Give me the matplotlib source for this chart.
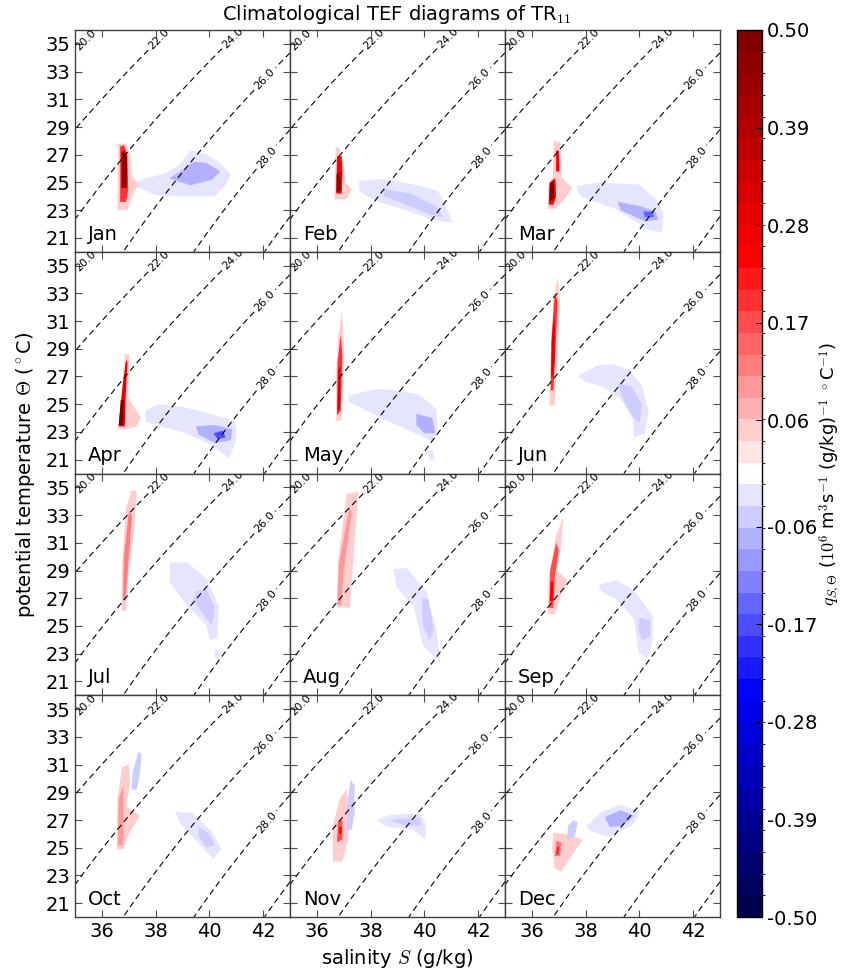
import numpy as np
import matplotlib
matplotlib.use('Agg')
import matplotlib.pyplot as plt
from matplotlib.colors import ListedColormap, BoundaryNorm
from matplotlib.collections import PolyCollection

plt.rcParams['font.family'] = 'DejaVu Sans'
plt.rcParams['mathtext.fontset'] = 'cm'

MONTHS = ['Jan', 'Feb', 'Mar', 'Apr', 'May', 'Jun',
          'Jul', 'Aug', 'Sep', 'Oct', 'Nov', 'Dec']
SIGMA_LEVELS = [20, 22, 24, 26, 28, 30]
SIGMA_LABELED = [20, 22, 24, 26, 28]
CBAR_TICKS = [-0.50, -0.39, -0.28, -0.17, -0.06, 0.06, 0.17, 0.28, 0.39, 0.50]
X_TICKS = [36, 38, 40, 42]
Y_TICKS = [21, 23, 25, 27, 29, 31, 33, 35]

# 各月の輸送分布: (値, [(S, Theta), ...]) 画像から読み取った領域
JAN = [
    (-0.035, [(37.1, 24.9), (37.6, 25.3), (38.3, 25.6), (38.9, 26.3), (39.3, 27.3), (39.8, 27.1), (40.4, 26.4),
              (40.8, 25.6), (40.6, 24.8), (40.2, 24.0), (39.0, 24.0), (38.0, 24.1), (37.5, 24.5)]),
    (-0.07, [(38.5, 25.3), (39.0, 25.9), (39.4, 26.5), (39.9, 26.4), (40.4, 25.8), (40.1, 25.2), (39.3, 24.8)]),
    (0.05, [(36.58, 23.0), (36.6, 27.8), (36.9, 27.8), (37.05, 27.0), (37.1, 25.6), (37.35, 24.8),
            (37.15, 24.1), (36.95, 23.0)]),
    (0.2, [(36.68, 23.6), (36.68, 27.6), (36.82, 27.7), (36.95, 27.0), (36.98, 24.5), (36.9, 23.6)]),
    (0.45, [(36.73, 24.6), (36.73, 27.2), (36.83, 27.3), (36.93, 26.8), (36.93, 24.6)]),
]
FEB = [
    (-0.035, [(37.55, 25.1), (38.3, 25.25), (39.5, 24.9), (40.5, 24.4), (40.8, 23.3), (41.05, 22.1), (40.3, 22.3),
              (39.3, 23.0), (38.3, 23.6), (37.6, 24.3)]),
    (-0.06, [(38.5, 24.5), (39.5, 24.2), (40.5, 23.2), (40.7, 22.5), (40.2, 22.7), (39.3, 23.4), (38.5, 24.0)]),
    (0.05, [(36.65, 23.8), (36.7, 27.6), (36.85, 27.4), (37.0, 26.2), (37.05, 25.0), (37.3, 24.5), (37.1, 23.8)]),
    (0.25, [(36.72, 24.2), (36.75, 26.9), (36.92, 26.9), (36.95, 25.6), (36.92, 24.2)]),
    (0.45, [(36.73, 24.3), (36.73, 25.6), (36.88, 25.8), (36.9, 24.4)]),
]
MAR = [
    (-0.035, [(37.65, 24.75), (38.5, 25.0), (40.0, 24.85), (40.6, 23.8), (40.9, 22.8), (40.85, 21.4), (40.3, 21.6),
              (40.0, 22.0), (39.1, 23.1), (37.8, 24.0)]),
    (-0.07, [(39.2, 23.6), (40.0, 23.3), (40.6, 22.9), (40.7, 22.3), (40.2, 22.2), (39.3, 23.0)]),
    (-0.15, [(40.15, 22.9), (40.5, 22.9), (40.55, 22.5), (40.2, 22.5)]),
    (0.05, [(36.58, 23.1), (36.6, 24.6), (36.78, 25.4), (36.82, 28.0), (37.05, 27.9), (37.1, 25.4), (37.5, 24.6),
            (37.3, 24.0), (36.9, 23.1)]),
    (0.25, [(36.63, 23.4), (36.65, 25.0), (36.87, 25.3), (36.9, 24.0), (36.8, 23.4)]),
    (0.25, [(36.9, 25.8), (36.9, 27.3), (37.0, 27.3), (37.02, 25.8)]),
    (0.48, [(36.66, 23.6), (36.68, 24.9), (36.82, 25.1), (36.83, 23.9)]),
]
APR = [
    (-0.035, [(37.6, 24.5), (38.1, 25.0), (39.0, 24.8), (39.65, 24.5), (40.9, 23.8), (41.0, 23.4), (41.0, 22.5),
              (40.75, 21.1), (40.1, 22.0), (39.15, 22.9), (37.65, 23.7)]),
    (-0.07, [(39.5, 23.4), (40.2, 23.5), (40.85, 23.2), (40.8, 22.4), (40.2, 22.2), (39.6, 22.8)]),
    (-0.18, [(40.15, 22.9), (40.5, 23.1), (40.6, 22.6), (40.3, 22.5)]),
    (0.05, [(36.6, 23.2), (36.72, 25.5), (36.85, 28.6), (37.02, 28.6), (36.98, 25.5), (37.45, 24.0), (37.3, 23.4),
            (36.9, 23.2)]),
    (0.3, [(36.62, 23.4), (36.78, 26.5), (36.9, 28.2), (36.95, 28.0), (36.88, 25.5), (36.85, 23.4)]),
    (0.48, [(36.63, 23.5), (36.7, 25.3), (36.8, 25.3), (36.8, 23.5)]),
]
MAY = [
    (-0.035, [(37.17, 25.6), (38.2, 26.1), (39.0, 26.0), (39.8, 25.7), (40.45, 24.65), (40.5, 22.9), (40.3, 22.3),
              (39.6, 22.95), (38.4, 24.0), (37.2, 25.15)]),
    (-0.035, [(40.1, 21.6), (40.3, 21.7), (40.4, 21.0), (40.2, 21.0)]),
    (-0.07, [(39.7, 24.3), (40.3, 24.0), (40.4, 22.9), (40.0, 22.9), (39.7, 23.5)]),
    (0.05, [(36.72, 23.8), (36.7, 27.0), (36.78, 29.5), (36.92, 31.8), (37.02, 29.0), (36.98, 26.5), (36.9, 23.8)]),
    (0.2, [(36.75, 24.2), (36.77, 28.0), (36.88, 30.0), (36.95, 28.5), (36.88, 24.5)]),
    (0.32, [(36.77, 24.6), (36.8, 27.5), (36.88, 27.8), (36.86, 24.6)]),
]
JUN = [
    (-0.035, [(37.7, 27.05), (38.45, 27.8), (39.0, 27.9), (39.6, 27.5), (40.1, 26.3), (40.35, 24.5), (40.2, 22.9),
              (39.8, 22.6), (39.75, 23.9), (39.3, 25.4), (38.6, 26.3), (38.0, 26.6)]),
    (-0.06, [(39.2, 26.5), (39.7, 26.3), (40.1, 25.0), (40.0, 23.6), (39.8, 24.0), (39.4, 25.3)]),
    (0.05, [(36.65, 24.9), (36.7, 28.5), (36.8, 32.5), (36.95, 34.2), (37.05, 32.5), (36.95, 28.0), (36.85, 24.9)]),
    (0.2, [(36.7, 26.0), (36.72, 29.5), (36.85, 33.0), (36.95, 32.5), (36.88, 29.0), (36.8, 26.0)]),
    (0.3, [(36.72, 27.0), (36.75, 30.0), (36.86, 31.5), (36.85, 28.5), (36.8, 27.0)]),
]
JUL = [
    (-0.035, [(38.5, 28.2), (38.53, 29.55), (39.15, 29.6), (39.9, 28.4), (40.35, 26.4), (40.3, 24.1), (40.0, 24.0),
              (39.9, 25.0), (39.2, 26.4)]),
    (-0.06, [(39.5, 27.5), (39.9, 27.6), (40.2, 26.3), (40.1, 25.0), (39.8, 25.8), (39.4, 26.8)]),
    (-0.035, [(40.2, 23.3), (40.35, 23.3), (40.35, 22.7), (40.2, 22.7)]),
    (0.05, [(36.73, 26.1), (36.75, 29.5), (36.9, 33.5), (37.1, 34.8), (37.3, 34.7), (37.2, 32.0), (37.0, 29.0),
            (36.9, 26.1)]),
    (0.12, [(36.78, 26.8), (36.82, 30.0), (37.0, 33.2), (37.12, 33.0), (37.0, 30.0), (36.88, 27.0)]),
]
AUG = [
    (-0.035, [(38.84, 29.1), (39.33, 29.2), (40.08, 27.5), (40.45, 24.6), (40.6, 22.3), (40.35, 22.8),
              (39.95, 23.6), (39.6, 26.4), (38.96, 27.8)]),
    (-0.06, [(39.9, 27.0), (40.15, 26.9), (40.35, 24.7), (40.2, 24.0), (39.95, 25.0)]),
    (0.05, [(36.74, 26.4), (36.78, 29.5), (37.1, 34.5), (37.54, 34.7), (37.4, 31.0), (37.23, 26.3)]),
    (0.1, [(36.76, 26.5), (36.82, 29.5), (37.2, 33.5), (37.3, 33.2), (37.0, 29.0), (36.9, 26.5)]),
]
SEP = [
    (-0.035, [(38.5, 27.8), (38.53, 28.0), (39.15, 28.3), (39.8, 27.6), (40.5, 25.7), (40.5, 24.05), (40.3, 22.65),
              (39.96, 23.1), (39.8, 25.5), (39.15, 26.9), (38.6, 27.5)]),
    (-0.06, [(40.0, 25.6), (40.4, 25.4), (40.4, 24.2), (40.1, 24.0), (39.95, 24.8)]),
    (0.05, [(36.6, 25.85), (36.62, 28.5), (36.9, 31.5), (37.17, 32.9), (37.1, 31.0), (36.95, 29.0), (37.35, 28.2),
            (37.1, 27.3), (36.85, 25.85)]),
    (0.17, [(36.65, 26.3), (36.68, 29.0), (36.9, 31.0), (37.0, 30.5), (36.85, 28.5), (36.8, 26.3)]),
    (0.25, [(36.66, 26.8), (36.7, 28.2), (36.8, 28.2), (36.8, 26.8)]),
]
OCT = [
    (0.05, [(36.55, 24.9), (36.58, 28.5), (36.75, 30.8), (37.0, 31.0), (37.05, 29.5), (36.9, 28.0), (37.42, 27.3),
            (37.0, 26.0), (36.8, 24.9)]),
    (0.1, [(36.6, 25.2), (36.62, 28.5), (36.8, 29.5), (36.8, 25.2)]),
    (-0.05, [(37.1, 29.2), (37.15, 30.5), (37.35, 31.9), (37.48, 31.8), (37.4, 30.2), (37.3, 29.2)]),
    (-0.035, [(38.72, 27.6), (39.4, 27.5), (40.14, 26.07), (40.45, 24.9), (40.14, 24.2), (39.65, 25.2),
              (38.9, 26.8)]),
    (-0.06, [(39.6, 26.5), (40.0, 26.0), (40.2, 25.2), (39.9, 25.0), (39.6, 25.8)]),
]
NOV = [
    (0.05, [(36.6, 24.0), (36.58, 26.5), (36.85, 28.5), (37.1, 29.2), (37.2, 27.5), (37.15, 25.5), (36.95, 24.0)]),
    (0.17, [(36.75, 25.4), (36.78, 26.8), (36.95, 27.0), (36.95, 25.6)]),
    (0.3, [(36.83, 26.0), (36.84, 26.5), (36.92, 26.5), (36.9, 26.0)]),
    (-0.05, [(37.1, 26.3), (37.15, 28.5), (37.25, 29.9), (37.4, 29.5), (37.4, 27.5), (37.3, 26.3)]),
    (-0.035, [(38.22, 27.0), (38.7, 27.35), (39.8, 27.5), (40.05, 26.8), (40.05, 25.6), (39.55, 26.3),
              (38.6, 26.5)]),
    (-0.06, [(38.7, 27.0), (39.8, 27.2), (39.9, 26.6), (39.3, 26.6)]),
]
DEC = [
    (0.05, [(36.8, 26.1), (37.2, 26.0), (37.9, 25.6), (37.5, 24.5), (37.1, 23.3), (36.85, 23.5), (36.75, 25.0)]),
    (0.12, [(36.85, 24.4), (36.9, 25.5), (37.1, 25.4), (37.05, 24.4)]),
    (0.22, [(36.9, 24.5), (36.95, 25.1), (37.02, 25.1), (36.98, 24.5)]),
    (-0.05, [(37.3, 25.6), (37.35, 26.6), (37.55, 27.0), (37.7, 26.8), (37.6, 25.8)]),
    (-0.035, [(38.04, 26.55), (38.53, 27.5), (39.27, 28.1), (39.95, 27.7), (39.95, 27.2), (39.7, 26.55),
              (38.84, 25.8), (38.16, 26.2)]),
    (-0.07, [(38.7, 27.2), (39.3, 27.7), (39.8, 27.3), (39.4, 26.6), (38.9, 26.5)]),
]
MONTH_DATA = [JAN, FEB, MAR, APR, MAY, JUN, JUL, AUG, SEP, OCT, NOV, DEC]


def sigma0(SA, T):
    # EOS-80 表層密度 (p=0) から sigma を計算
    S = SA / 1.00472
    rw = (999.842594 + 6.793952e-2 * T - 9.095290e-3 * T**2 + 1.001685e-4 * T**3
          - 1.120083e-6 * T**4 + 6.536332e-9 * T**5)
    rho = (rw + S * (0.824493 - 4.0899e-3 * T + 7.6438e-5 * T**2 - 8.2467e-7 * T**3 + 5.3875e-9 * T**4)
           + S**1.5 * (-5.72466e-3 + 1.0227e-4 * T - 1.6546e-6 * T**2) + 4.8314e-4 * S**2)
    return rho - 1000.0


# 離散カラーマップ (41 段階, 中央が白)
levels = np.linspace(-0.5, 0.5, 42)
cmap = ListedColormap(plt.cm.seismic(np.linspace(0, 1, 41)))
norm = BoundaryNorm(levels, cmap.N)

s_grid = np.linspace(35, 43, 161)
t_grid = np.linspace(20, 36, 161)
SS, TT = np.meshgrid(s_grid, t_grid)
SIG = sigma0(SS, TT)
label_pos = [(35.4, 35.3), (38.1, 35.4), (40.9, 35.4), (42.15, 32.3), (42.2, 26.7)]

fig = plt.figure(figsize=(8.45, 9.74), dpi=100)
axes = fig.subplots(4, 3, sharex=True, sharey=True)
fig.subplots_adjust(left=0.0888, right=0.8521, bottom=0.0585, top=0.9692, wspace=0, hspace=0)

pc = None
for i, ax in enumerate(axes.flat):
    data = MONTH_DATA[i]
    polys = [np.array(p) for v, p in data]
    vals = np.array([v for v, p in data])
    pc = PolyCollection(polys, cmap=cmap, norm=norm, edgecolors='none', linewidths=0)
    pc.set_array(vals)
    ax.add_collection(pc)

    cs = ax.contour(SS, TT, SIG, levels=SIGMA_LEVELS, colors='k', linewidths=0.8,
                    linestyles=[(0, (5.5, 3.5))])
    ax.clabel(cs, levels=SIGMA_LABELED, fmt='%.1f', fontsize=8, inline=True, inline_spacing=3,
              manual=label_pos)

    ax.text(0.06, 0.055, MONTHS[i], transform=ax.transAxes, fontsize=14)
    ax.set_xlim(35, 43)
    ax.set_ylim(20, 36)
    ax.set_xticks(X_TICKS)
    ax.set_yticks(Y_TICKS)
    ax.tick_params(direction='in', top=True, right=True, length=5, labelsize=14, color='0.3')
    for sp in ax.spines.values():
        sp.set_color('0.25')
        sp.set_linewidth(1.0)

cax = fig.add_axes([0.8722, 0.0585, 0.0296, 0.9692 - 0.0585])
cb = fig.colorbar(pc, cax=cax, boundaries=levels, ticks=CBAR_TICKS)
cb.ax.set_yticklabels(['%.2f' % t for t in CBAR_TICKS])
cb.ax.tick_params(labelsize=14, length=4, direction='in')
cb.outline.set_linewidth(1.0)

fig.text(0.47, 0.985, r'Climatological TEF diagrams of TR$_{11}$', ha='center', va='center', fontsize=14)
fig.text(0.47, 0.016, r'salinity $S$ (g/kg)', ha='center', va='center', fontsize=14)
fig.text(0.03, 0.513, r'potential temperature $\Theta$ ($^\circ$C)', ha='center', va='center',
         rotation=90, fontsize=14)
fig.text(0.984, 0.513, r'$q_{S,\Theta}$ ($10^6$ m$^3$s$^{-1}$ (g/kg)$^{-1}$ $^\circ$C$^{-1}$)',
         ha='center', va='center', rotation=90, fontsize=13)

fig.savefig('out.png', dpi=100)
